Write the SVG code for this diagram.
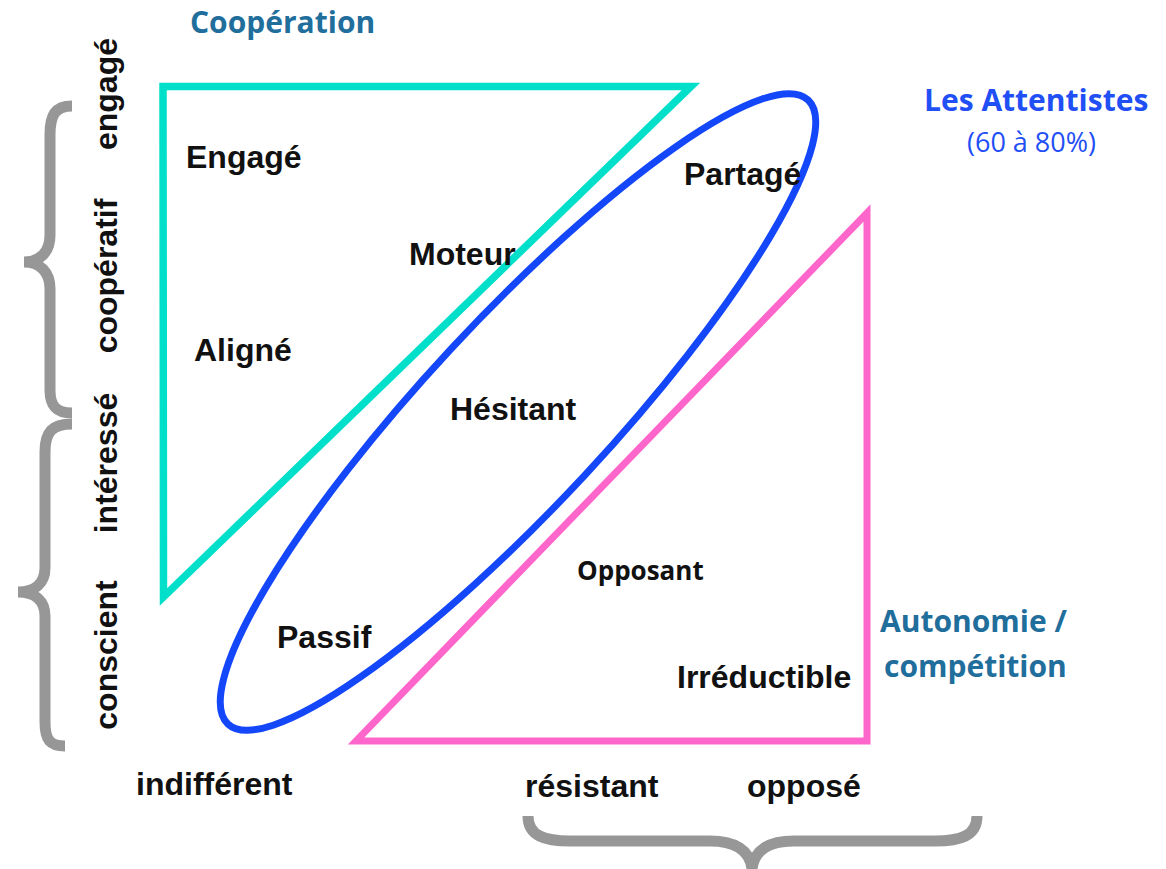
<svg xmlns="http://www.w3.org/2000/svg" width="1166" height="869" viewBox="0 0 1166 869">
<style>
.lbl{font-family:"Liberation Sans",Arial,sans-serif;font-weight:bold;font-size:32px;fill:#111}
.axis{font-family:"Liberation Sans",Arial,sans-serif;font-weight:bold;font-size:32px;fill:#111}
.cal{font-family:"Open Sans","Noto Sans",sans-serif;font-weight:bold}
.title{fill:#1f6e9c;font-size:30px}
.brace{fill:none;stroke:#979797;stroke-width:11}
</style>
<rect width="1166" height="869" fill="#fff"/>
<g id="shapes">
  <g id="cooperation-zone"><polygon points="163,86.5 691,86.5 163.5,597" fill="none" stroke="#00dfc9" stroke-width="7.5"/></g>
  <g id="autonomie-zone"><polygon points="867,213 867,741 356,741" fill="none" stroke="#ff66cc" stroke-width="7"/></g>
  <g id="attentistes-zone"><ellipse cx="518" cy="412" rx="426" ry="92" transform="rotate(-47.1 518 412)" fill="none" stroke="#1447fa" stroke-width="7"/></g>
</g>
<g id="connectors">
  <path class="brace" d="M72,106 C55,106 50,115 50,135 L50,235 C50,252 40,262 24,262 C40,262 50,272 50,289 L50,390 C50,405 55,413 72,413"/>
  <path class="brace" d="M72,424 C52,424 45,432 45,452 L45,568 C45,583 35,592 18,592 C35,592 45,601 45,616 L45,722 C45,740 50,746 65,746"/>
  <path class="brace" d="M528,816 C528,836 545,841 570,841 L710,841 C735,841 750,850 752,869 C754,850 769,841 794,841 L935,841 C960,841 977,836 977,816"/>
</g>
<g id="labels">
  <text class="cal title" x="190" y="33">Coopération</text>
  <text class="cal" x="924" y="111" font-size="30" fill="#1f4ff5">Les Attentistes</text>
  <text x="967" y="152" font-family="Open Sans,Noto Sans,sans-serif" font-size="27" fill="#1f4ff5">(60 à 80%)</text>
  <text class="cal title" x="880" y="632">Autonomie /</text>
  <text class="cal title" x="884" y="677">compétition</text>
  <text class="axis" transform="translate(117,94) rotate(-90)" text-anchor="middle">engagé</text>
  <text class="axis" transform="translate(117,276) rotate(-90)" text-anchor="middle">coopératif</text>
  <text class="axis" transform="translate(117,463) rotate(-90)" text-anchor="middle">intéressé</text>
  <text class="axis" transform="translate(117,655) rotate(-90)" text-anchor="middle">conscient</text>
  <text class="axis" x="136" y="795">indifférent</text>
  <text class="axis" x="525" y="797">résistant</text>
  <text class="axis" x="747" y="797">opposé</text>
  <g id="n-engage"><text class="lbl" x="186" y="168">Engagé</text></g>
  <g id="n-partage"><text class="lbl" x="684" y="185">Partagé</text></g>
  <g id="n-moteur"><text class="lbl" x="409" y="265">Moteur</text></g>
  <g id="n-aligne"><text class="lbl" x="194" y="361">Aligné</text></g>
  <g id="n-hesitant"><text class="lbl" x="450" y="420">Hésitant</text></g>
  <g id="n-opposant"><text class="cal" x="577" y="580" font-size="26" fill="#111">Opposant</text></g>
  <g id="n-passif"><text class="lbl" x="277" y="648">Passif</text></g>
  <g id="n-irreductible"><text class="lbl" x="677" y="688">Irréductible</text></g>
</g>
</svg>
